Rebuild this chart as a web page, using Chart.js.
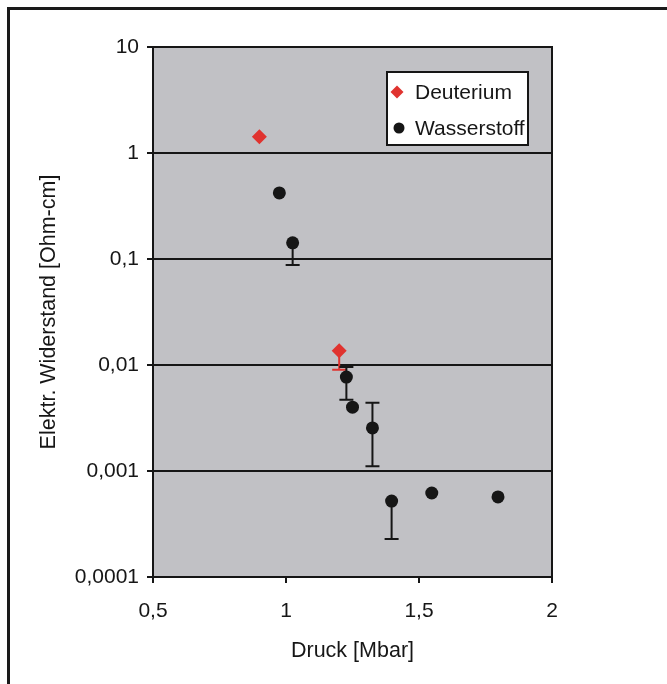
<!DOCTYPE html>
<html>
<head>
<meta charset="utf-8">
<script src="https://cdn.jsdelivr.net/npm/chart.js@4.4.1/dist/chart.umd.min.js"></script>
<style>
  html, body { margin: 0; padding: 0; background: #fff; }
  canvas { display: block; }
</style>
</head>
<body>
<canvas id="widerstand" width="667" height="684"></canvas>
<script>
// Deuterium
const deutX = [0.9, 1.2];
const deutY = [1.42, 0.0136];
const deutErrLow = [null, 0.009];
const deutErrHigh = [null, null];

// Wasserstoff
const wasX = [0.975, 1.025, 1.227, 1.25, 1.325, 1.397, 1.548, 1.797];
const wasY = [0.42, 0.142, 0.0077, 0.0040, 0.00255, 0.00052, 0.00062, 0.00057];
const wasErrLow = [null, 0.088, 0.0047, null, 0.00111, 0.000228, null, null];
const wasErrHigh = [null, null, 0.0096, null, 0.0044, null, null, null];

const yTicks = [0.0001, 0.001, 0.01, 0.1, 1, 10];
const yTickLabels = ['0,0001', '0,001', '0,01', '0,1', '1', '10'];
const xTicks = [0.5, 1, 1.5, 2];
const xTickLabels = ['0,5', '1', '1,5', '2'];

const FONT = '"Liberation Sans", Arial, sans-serif';
const RED = '#e0332f';
const INK = '#161616';

function toPoints(xs, ys, lo, hi) {
    return xs.map((x, i) => ({ x: x, y: ys[i], lo: lo[i], hi: hi[i] }));
}

const frame = {
    id: 'frame',
    beforeDraw(chart) {
        const { ctx, chartArea: a } = chart;
        ctx.save();
        ctx.fillStyle = '#c1c1c5';
        ctx.fillRect(a.left, a.top, a.right - a.left, a.bottom - a.top);
        // outer border, only top and left edges inside the page
        ctx.strokeStyle = '#1a1a1a';
        ctx.lineWidth = 3;
        ctx.beginPath();
        ctx.moveTo(8.5, 700);
        ctx.lineTo(8.5, 8.5);
        ctx.lineTo(700, 8.5);
        ctx.stroke();
        ctx.restore();
    }
};

const errorBars = {
    id: 'errorBars',
    beforeDatasetsDraw(chart) {
        const { ctx, chartArea: a } = chart;
        const xs = chart.scales.x, ys = chart.scales.y;
        // plot frame
        ctx.save();
        ctx.strokeStyle = INK;
        ctx.lineWidth = 2;
        ctx.strokeRect(a.left, a.top, a.right - a.left, a.bottom - a.top);
        chart.data.datasets.forEach(ds => {
            ctx.strokeStyle = ds.barColor;
            ctx.lineWidth = 2;
            ds.data.forEach(p => {
                const px = xs.getPixelForValue(p.x);
                const py = ys.getPixelForValue(p.y);
                [p.lo, p.hi].forEach(v => {
                    if (v == null) return;
                    const ey = ys.getPixelForValue(v);
                    ctx.beginPath();
                    ctx.moveTo(px, py);
                    ctx.lineTo(px, ey);
                    ctx.moveTo(px - 7, ey);
                    ctx.lineTo(px + 7, ey);
                    ctx.stroke();
                });
            });
        });
        ctx.restore();
    }
};

const boxLegend = {
    id: 'boxLegend',
    afterDatasetsDraw(chart) {
        const { ctx } = chart;
        const x = 387, y = 72, w = 141, h = 73;
        ctx.save();
        ctx.fillStyle = '#fff';
        ctx.fillRect(x, y, w, h);
        ctx.strokeStyle = INK;
        ctx.lineWidth = 2;
        ctx.strokeRect(x, y, w, h);
        ctx.font = '21px ' + FONT;
        ctx.textBaseline = 'middle';
        chart.data.datasets.forEach((ds, i) => {
            const cy = y + 20 + i * 36;
            ctx.fillStyle = ds.pointBackgroundColor;
            ctx.beginPath();
            if (ds.pointStyle === 'rectRot') {
                ctx.moveTo(x + 10, cy - 6.5);
                ctx.lineTo(x + 16.5, cy);
                ctx.lineTo(x + 10, cy + 6.5);
                ctx.lineTo(x + 3.5, cy);
                ctx.closePath();
            } else {
                ctx.arc(x + 12, cy, 5.5, 0, Math.PI * 2);
            }
            ctx.fill();
            ctx.fillStyle = INK;
            ctx.fillText(ds.label, x + 28, cy + 1);
        });
        ctx.restore();
    }
};

new Chart(document.getElementById('widerstand'), {
    type: 'scatter',
    data: {
        datasets: [{
            label: 'Deuterium',
            data: toPoints(deutX, deutY, deutErrLow, deutErrHigh),
            pointStyle: 'rectRot',
            pointRadius: 7.5,
            pointBackgroundColor: RED,
            pointBorderWidth: 0,
            barColor: RED
        }, {
            label: 'Wasserstoff',
            data: toPoints(wasX, wasY, wasErrLow, wasErrHigh),
            pointStyle: 'circle',
            pointRadius: 6.5,
            pointBackgroundColor: INK,
            pointBorderWidth: 0,
            barColor: INK
        }]
    },
    options: {
        responsive: false,
        animation: false,
        layout: { padding: { left: 0, top: 47, right: 115, bottom: 0 } },
        plugins: {
            legend: { display: false },
            tooltip: { enabled: false }
        },
        scales: {
            x: {
                type: 'linear',
                min: 0.5,
                max: 2,
                afterFit(scale) { scale.height = 107; },
                afterBuildTicks(scale) { scale.ticks = xTicks.map(v => ({ value: v })); },
                ticks: {
                    padding: 16,
                    color: INK,
                    font: { family: FONT, size: 21 },
                    callback: (v) => xTickLabels[xTicks.indexOf(v)]
                },
                grid: { drawOnChartArea: false, drawTicks: true, tickLength: 6, color: INK, lineWidth: 2 },
                border: { display: true, color: INK, width: 2 },
                title: {
                    display: true,
                    text: 'Druck [Mbar]',
                    color: INK,
                    font: { family: FONT, size: 21.5 },
                    padding: { top: 0, bottom: 20 }
                }
            },
            y: {
                type: 'logarithmic',
                min: 0.0001,
                max: 10,
                afterFit(scale) { scale.width = 153; },
                afterBuildTicks(scale) { scale.ticks = yTicks.map(v => ({ value: v })); },
                ticks: {
                    padding: 8,
                    color: INK,
                    font: { family: FONT, size: 21 },
                    callback: (v) => yTickLabels[yTicks.indexOf(v)]
                },
                grid: { drawTicks: true, tickLength: 6, color: INK, lineWidth: 2 },
                border: { display: true, color: INK, width: 2 },
                title: {
                    display: true,
                    text: 'Elektr. Widerstand [Ohm-cm]',
                    color: INK,
                    font: { family: FONT, size: 21.5 },
                    padding: { top: 36, bottom: 0 }
                }
            }
        }
    },
    plugins: [frame, errorBars, boxLegend]
});
</script>
</body>
</html>
